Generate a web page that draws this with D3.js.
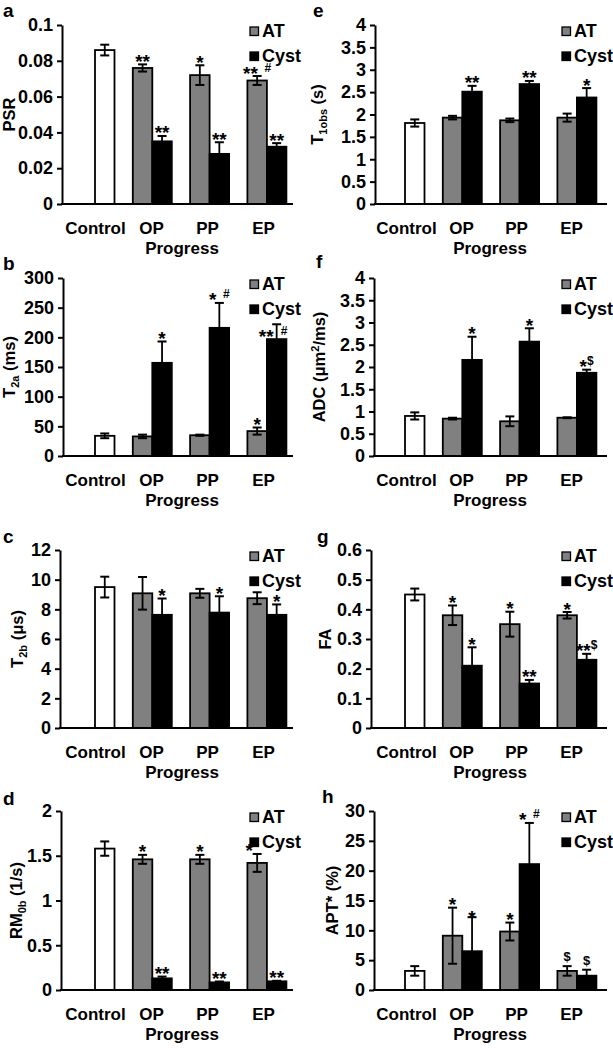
<!DOCTYPE html>
<html><head><meta charset="utf-8">
<script src="https://cdn.jsdelivr.net/npm/d3@7"></script>
<style>
body{margin:0;background:#fff}
svg{display:block}
text{font-family:"Liberation Sans",Arial,sans-serif;font-weight:bold;fill:#000}
</style>
</head><body>
<svg id="chart" width="613" height="1048"></svg>
<script>
// ---------- DATA ----------
const categories = ["Control", "OP", "PP", "EP"];
const groups = ["OP", "PP", "EP"];
const seriesNames = ["AT", "Cyst"];
const xTitle = "Progress";

// a: PSR
const psrTicks = [0, 0.02, 0.04, 0.06, 0.08, 0.1];
const psrControl = 0.086, psrControlErr = 0.003;
const psrAT = [0.076, 0.072, 0.069], psrATErr = [0.002, 0.0055, 0.0025];
const psrCyst = [0.035, 0.028, 0.032], psrCystErr = [0.003, 0.0065, 0.002];
const psrATSig = ["**", "*", "** #"], psrCystSig = ["**", "**", "**"];

// b: T2a (ms)
const t2aTicks = [0, 50, 100, 150, 200, 250, 300];
const t2aControl = 34, t2aControlErr = 4;
const t2aAT = [33, 35, 42], t2aATErr = [3, 1, 6];
const t2aCyst = [157, 216, 197], t2aCystErr = [36, 42, 25];
const t2aATSig = ["", "", "*"], t2aCystSig = ["*", "* #", "** #"];

// c: T2b (us)
const t2bTicks = [0, 2, 4, 6, 8, 10, 12];
const t2bControl = 9.5, t2bControlErr = 0.7;
const t2bAT = [9.08, 9.08, 8.75], t2bATErr = [1.1, 0.3, 0.4];
const t2bCyst = [7.63, 7.78, 7.63], t2bCystErr = [1.1, 1.1, 0.7];
const t2bATSig = ["", "", ""], t2bCystSig = ["*", "*", "*"];

// d: RM0b (1/s)
const rmTicks = [0, 0.5, 1, 1.5, 2];
const rmControl = 1.58, rmControlErr = 0.08;
const rmAT = [1.46, 1.46, 1.42], rmATErr = [0.05, 0.05, 0.1];
const rmCyst = [0.13, 0.085, 0.097], rmCystErr = [0.02, 0.01, 0.006];
const rmATSig = ["*", "*", "*"], rmCystSig = ["**", "**", "**"];

// e: T1obs (s)
const t1Ticks = [0, 0.5, 1, 1.5, 2, 2.5, 3, 3.5, 4];
const t1Control = 1.81, t1ControlErr = 0.08;
const t1AT = [1.93, 1.87, 1.93], t1ATErr = [0.04, 0.04, 0.09];
const t1Cyst = [2.51, 2.68, 2.38], t1CystErr = [0.13, 0.07, 0.21];
const t1ATSig = ["", "", ""], t1CystSig = ["**", "**", "*"];

// f: ADC (um2/ms)
const adcTicks = [0, 0.5, 1, 1.5, 2, 2.5, 3, 3.5, 4];
const adcControl = 0.9, adcControlErr = 0.08;
const adcAT = [0.84, 0.78, 0.86], adcATErr = [0.02, 0.11, 0.01];
const adcCyst = [2.16, 2.57, 1.87], adcCystErr = [0.52, 0.3, 0.07];
const adcATSig = ["", "", ""], adcCystSig = ["*", "*", "*$"];

// g: FA
const faTicks = [0, 0.1, 0.2, 0.3, 0.4, 0.5, 0.6];
const faControl = 0.45, faControlErr = 0.02;
const faAT = [0.38, 0.35, 0.38], faATErr = [0.033, 0.042, 0.011];
const faCyst = [0.21, 0.15, 0.23], faCystErr = [0.062, 0.012, 0.02];
const faATSig = ["*", "*", "*"], faCystSig = ["*", "**", "**$"];

// h: APT* (%)
const aptTicks = [0, 5, 10, 15, 20, 25, 30];
const aptControl = 3.2, aptControlErr = 0.8;
const aptAT = [9.1, 9.8, 3.2], aptATErr = [4.7, 1.5, 0.8];
const aptCyst = [6.5, 21.1, 2.4], aptCystErr = [5.7, 6.9, 1.0];
const aptATSig = ["*", "*", "$"], aptCystSig = ["*", "* #", "$"];

// ---------- LAYOUT / STYLE ----------
const L = {
  colC0: [95, 405], step: 57.3, barW: 19.5,
  axisEnd: [293, 607],
  labelRange: [[95, 263], [406, 571]],
  progressX: [182, 490],
  legendX: [250, 562],
  rows: [[25, 204], [278, 456], [550, 728], [811, 990]],
  colors: { control: "#ffffff", AT: "#808080", Cyst: "#000000" }
};
const sigTweaks = {
  "b-EP-Cyst": { split: true },
  "d-EP-AT": { dx: -8 },
  "h-OP-Cyst": { dy: 3 }
};

const panels = [
  { key: "a", col: 0, row: 0, axisX: 62, titleX: 15, letterPos: [3, 17],
    title: [["PSR"]], ticks: psrTicks,
    control: psrControl, controlErr: psrControlErr, AT: psrAT, ATErr: psrATErr, Cyst: psrCyst, CystErr: psrCystErr, ATSig: psrATSig, CystSig: psrCystSig },
  { key: "b", col: 0, row: 1, axisX: 63, titleX: 15, letterPos: [3, 270],
    title: [["T"], ["2a", "sub"], [" (ms)"]], ticks: t2aTicks,
    control: t2aControl, controlErr: t2aControlErr, AT: t2aAT, ATErr: t2aATErr, Cyst: t2aCyst, CystErr: t2aCystErr, ATSig: t2aATSig, CystSig: t2aCystSig },
  { key: "c", col: 0, row: 2, axisX: 60, titleX: 23, letterPos: [3, 543],
    title: [["T"], ["2b", "sub"], [" (\u03bcs)"]], ticks: t2bTicks,
    control: t2bControl, controlErr: t2bControlErr, AT: t2bAT, ATErr: t2bATErr, Cyst: t2bCyst, CystErr: t2bCystErr, ATSig: t2bATSig, CystSig: t2bCystSig },
  { key: "d", col: 0, row: 3, axisX: 61, titleX: 22, letterPos: [3, 805],
    title: [["RM"], ["0b", "sub"], [" (1/s)"]], ticks: rmTicks,
    control: rmControl, controlErr: rmControlErr, AT: rmAT, ATErr: rmATErr, Cyst: rmCyst, CystErr: rmCystErr, ATSig: rmATSig, CystSig: rmCystSig },
  { key: "e", col: 1, row: 0, axisX: 375, titleX: 323, letterPos: [313, 17],
    title: [["T"], ["1obs", "sub"], [" (s)"]], ticks: t1Ticks,
    control: t1Control, controlErr: t1ControlErr, AT: t1AT, ATErr: t1ATErr, Cyst: t1Cyst, CystErr: t1CystErr, ATSig: t1ATSig, CystSig: t1CystSig },
  { key: "f", col: 1, row: 1, axisX: 374, titleX: 325, letterPos: [316, 268],
    title: [["ADC (\u03bcm"], ["2", "sup"], ["/ms)"]], ticks: adcTicks,
    control: adcControl, controlErr: adcControlErr, AT: adcAT, ATErr: adcATErr, Cyst: adcCyst, CystErr: adcCystErr, ATSig: adcATSig, CystSig: adcCystSig },
  { key: "g", col: 1, row: 2, axisX: 371, titleX: 331, letterPos: [317, 543],
    title: [["FA"]], ticks: faTicks,
    control: faControl, controlErr: faControlErr, AT: faAT, ATErr: faATErr, Cyst: faCyst, CystErr: faCystErr, ATSig: faATSig, CystSig: faCystSig },
  { key: "h", col: 1, row: 3, axisX: 374, titleX: 338, letterPos: [322, 803],
    title: [["APT* (%)"]], ticks: aptTicks,
    control: aptControl, controlErr: aptControlErr, AT: aptAT, ATErr: aptATErr, Cyst: aptCyst, CystErr: aptCystErr, ATSig: aptATSig, CystSig: aptCystSig }
];

// ---------- DRAW ----------
const svg = d3.select("#chart");
svg.append("rect").attr("width", 613).attr("height", 1048).attr("fill", "#fff");
const FONT = "Liberation Sans, Arial, sans-serif";

panels.forEach(p => {
  const g = svg.append("g");
  const [top, bottom] = L.rows[p.row];
  const c0 = L.colC0[p.col];
  const bw = L.barW;
  const ymax = p.ticks[p.ticks.length - 1];
  const y = d3.scaleLinear().domain([0, ymax]).range([bottom, top]);
  const x = d3.scaleBand().domain(categories)
    .range([c0 - L.step / 2, c0 + L.step * (categories.length - 0.5)]).padding(0);
  const cx = c => x(c) + x.bandwidth() / 2;
  const xl = d3.scalePoint().domain(categories).range(L.labelRange[p.col]);

  // bars
  const bars = [{ cat: "Control", s: "control", v: p.control, e: p.controlErr, x0: cx("Control") }];
  groups.forEach((grp, i) => {
    bars.push({ cat: grp, s: "AT", v: p.AT[i], e: p.ATErr[i], x0: cx(grp) - bw, sig: p.ATSig[i] });
    bars.push({ cat: grp, s: "Cyst", v: p.Cyst[i], e: p.CystErr[i], x0: cx(grp), sig: p.CystSig[i] });
  });

  g.selectAll("rect.bar").data(bars).join("rect")
    .attr("class", "bar")
    .attr("x", d => d.x0).attr("width", bw)
    .attr("y", d => y(d.v)).attr("height", d => y(0) - y(d.v))
    .attr("fill", d => L.colors[d.s]).attr("stroke", "#000").attr("stroke-width", 1.8);

  // error bars
  const eb = g.selectAll("g.eb").data(bars).join("g").attr("class", "eb");
  eb.append("line")
    .attr("x1", d => d.x0 + bw / 2).attr("x2", d => d.x0 + bw / 2)
    .attr("y1", d => y(d.v - d.e)).attr("y2", d => y(d.v + d.e))
    .attr("stroke", "#000").attr("stroke-width", 1.8);
  [1, -1].forEach(sgn => {
    eb.append("line")
      .attr("x1", d => d.x0 + bw / 2 - 4.5).attr("x2", d => d.x0 + bw / 2 + 4.5)
      .attr("y1", d => y(d.v + sgn * d.e)).attr("y2", d => y(d.v + sgn * d.e))
      .attr("stroke", "#000").attr("stroke-width", 2);
  });

  // significance marks
  bars.filter(d => d.sig).forEach(d => {
    const tw = sigTweaks[`${p.key}-${d.cat}-${d.s}`] || {};
    const bx = d.x0 + bw / 2 + (tw.dx || 0);
    const et = y(d.v + d.e);
    const m = d.sig.match(/^(\*+)(.*)$/);
    if (tw.split && m) {
      g.append("text").attr("x", bx - 3).attr("y", et + 19).attr("text-anchor", "end")
        .attr("font-size", 19).text(m[1]);
      g.append("text").attr("x", bx + 4).attr("y", et + 11).attr("text-anchor", "start")
        .attr("font-size", 12).text(m[2].trim());
    } else if (m) {
      const t = g.append("text").attr("x", bx).attr("y", et + 3.5 + (tw.dy || 0))
        .attr("text-anchor", "middle");
      t.append("tspan").attr("font-size", 19).text(m[1]);
      if (m[2]) t.append("tspan").attr("font-size", 12).attr("dy", -8)
        .text(m[2].replace(/ /g, "\u00a0\u00a0"));
    } else {
      g.append("text").attr("x", bx).attr("y", et - 5).attr("text-anchor", "middle")
        .attr("font-size", 13).text(d.sig);
    }
  });

  // y axis
  const fmt = d3.format("~g");
  const ya = g.append("g").attr("transform", `translate(${p.axisX},0)`)
    .call(d3.axisLeft(y).tickValues(p.ticks).tickSize(5).tickSizeOuter(0).tickPadding(4).tickFormat(fmt));
  ya.select(".domain").attr("stroke-width", 2);
  ya.selectAll(".tick line").attr("stroke-width", 2);
  ya.selectAll(".tick text").attr("font-size", 18).attr("font-family", FONT).attr("font-weight", "bold");

  // x axis
  g.append("line").attr("x1", p.axisX - 1).attr("x2", L.axisEnd[p.col])
    .attr("y1", bottom).attr("y2", bottom).attr("stroke", "#000").attr("stroke-width", 2);
  const xa = g.append("g").attr("transform", `translate(0,${bottom})`)
    .call(d3.axisBottom(xl).tickSize(0).tickPadding(18));
  xa.select(".domain").remove();
  xa.selectAll(".tick text").attr("font-size", 17).attr("font-family", FONT).attr("font-weight", "bold")
    .attr("dy", null).attr("y", 29.5);

  // x title
  g.append("text").attr("x", L.progressX[p.col]).attr("y", bottom + 50)
    .attr("text-anchor", "middle").attr("font-size", 17).text(xTitle);

  // y title
  const yt = g.append("text").attr("transform", `translate(${p.titleX},${(top + bottom) / 2}) rotate(-90)`)
    .attr("text-anchor", "middle").attr("font-size", 16.5);
  let shift = 0;
  p.title.forEach(([t, kind]) => {
    const ts = yt.append("tspan").text(t);
    if (kind === "sub") { ts.attr("font-size", 11).attr("dy", 4); shift = 4; }
    else if (kind === "sup") { ts.attr("font-size", 11).attr("dy", -6); shift = -6; }
    else if (shift !== 0) { ts.attr("dy", -shift); shift = 0; }
  });

  // legend
  const lx = L.legendX[p.col];
  seriesNames.forEach((s, i) => {
    g.append("rect").attr("x", lx).attr("y", top + 2 + i * 25).attr("width", 8.5).attr("height", 8.5)
      .attr("fill", L.colors[s]).attr("stroke", "#000").attr("stroke-width", 1.3);
    g.append("text").attr("x", lx + 12).attr("y", top + 12 + i * 25).attr("font-size", 18).text(s);
  });

  // panel letter
  g.append("text").attr("x", p.letterPos[0]).attr("y", p.letterPos[1]).attr("font-size", 19).text(p.key);
});
</script>
</body></html>
